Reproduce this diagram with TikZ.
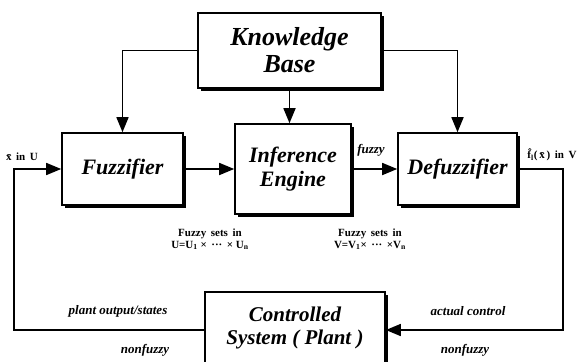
\documentclass[tikz,border=0pt]{standalone}
\usepackage{fontspec}
\setmainfont{Liberation Serif}
\usetikzlibrary{arrows.meta,shadows}
\begin{document}
\begin{tikzpicture}[x=1bp,y=-1bp,
  blk/.style={draw,line width=1.6bp,fill=white,align=center,inner sep=0pt,
    font=\fontsize{22bp}{24bp}\selectfont\bfseries\itshape,
    drop shadow={fill=black,opacity=1,shadow xshift=2.5bp,shadow yshift=-2.5bp}},
  arr/.style={line width=1.6bp,-{Triangle[length=15bp,width=12bp]}},
  lab/.style={font=\fontsize{13bp}{14bp}\selectfont\bfseries\itshape},
  sml/.style={font=\fontsize{11bp}{12bp}\selectfont\bfseries,align=center,inner sep=0pt}]
\useasboundingbox (0,0) rectangle (586,361);
\node[blk,minimum width=183bp,minimum height=75bp,font=\fontsize{26bp}{27bp}\selectfont\bfseries\itshape] (kb) at (289.5,50.5) {Knowledge\\Base};
\node[blk,minimum width=121bp,minimum height=72bp] (fuzz) at (122.5,169) {Fuzzifier};
\node[blk,minimum width=116bp,minimum height=90bp] (inf) at (293,169) {Inference\\Engine};
\node[blk,minimum width=119bp,minimum height=72bp] (defz) at (457.5,169) {Defuzzifier};
\node[blk,minimum width=180bp,minimum height=72bp,font=\fontsize{21bp}{23bp}\selectfont\bfseries\itshape] (plant) at (295,328) {Controlled\\System ( Plant )};
% knowledge base connections
\draw[arr] (kb.west) -| (fuzz.north);
\draw[arr] (kb.east) -| (defz.north);
\draw[arr] (kb.south) -- (inf.north -| kb.south);
% forward chain
\draw[arr] (fuzz.east) -- (inf.west);
\draw[arr] (inf.east) -- (defz.west);
% feedback loop
\coordinate (rb) at (563,330);
\coordinate (lb) at (14,330);
\draw[arr] (defz.east) -| (rb) -- (plant.east |- rb);
\draw[arr] (plant.west |- lb) -- (lb) |- (fuzz.west);
% labels
\node[sml] (lx) at (22,157) {\=x\, in\, U};
\node[lab] (lfz) at (371,150) {fuzzy};
\node[sml] (lf) at (552,155) {\^f\textsubscript{l}(\,\=x\,)\, in\, V};
\node[sml] (lu) at (210,239) {Fuzzy\, sets\, in\\U=U\textsubscript{1} × \,···\, × U\textsubscript{n}};
\node[sml] (lv) at (370,239) {Fuzzy\, sets\, in\\V=V\textsubscript{1}× \,···\, ×V\textsubscript{n}};
\node[lab] (lpo) at (118,311) {plant output/states};
\node[lab] (lnf1) at (145,350) {nonfuzzy};
\node[lab] (lac) at (468,311) {actual control};
\node[lab] (lnf2) at (465,350) {nonfuzzy};
\end{tikzpicture}
\end{document}
